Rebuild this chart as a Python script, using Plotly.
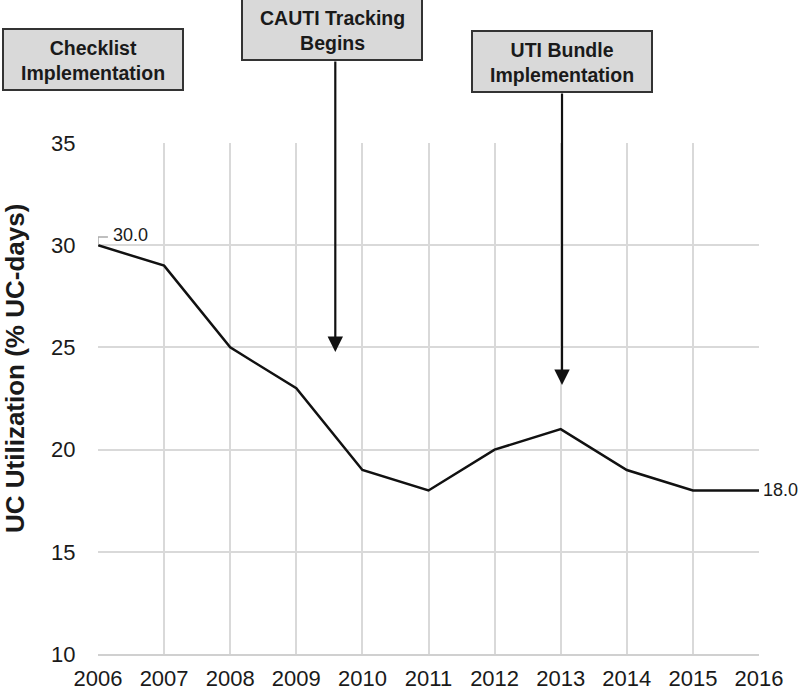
import plotly.graph_objects as go

years = [2006, 2007, 2008, 2009, 2010, 2011, 2012, 2013, 2014, 2015, 2016]
uc_util = [30, 29, 25, 23, 19, 18, 20, 21, 19, 18, 18]
y_ticks = [10, 15, 20, 25, 30, 35]

events = ["Checklist<br>Implementation", "CAUTI Tracking<br>Begins", "UTI Bundle<br>Implementation"]
event_x = [2005.92, 2009.59, 2013.02]
event_tip = [35.98, 24.78, 23.16]

FONT = "Liberation Sans, Arial, sans-serif"

W, H = 800, 690
L, T = 98, 143
R, B = W - 759, H - 654
pw, ph = W - L - R, H - T - B

fig = go.Figure()
fig.add_trace(go.Scatter(x=years, y=uc_util, mode="lines",
                         line=dict(color="#111111", width=2.5),
                         showlegend=False, hoverinfo="skip", cliponaxis=False))


def px_x(p):
    return (p - L) / pw


def px_y(p):
    return (H - B - p) / ph


# event boxes (screen pixel extents)
boxes = [(3, 183, 29, 90), (242, 422, -1, 60), (472, 652, 31, 92)]
annotations = []
shapes = []
for (x0, x1, y0, y1), txt, ex, et in zip(boxes, events, event_x, event_tip):
    shapes.append(dict(type="rect", xref="paper", yref="paper",
                       x0=px_x(x0), x1=px_x(x1), y0=px_y(y1), y1=px_y(y0),
                       fillcolor="#d9d9d9", line=dict(color="#333333", width=2), layer="above"))
    annotations.append(dict(xref="paper", yref="paper", x=px_x((x0 + x1) / 2), y=px_y((y0 + y1) / 2 + 1),
                            text="<b>" + txt + "</b>", showarrow=False,
                            font=dict(family=FONT, size=19.5, color="#1a1a1a"),
                            xanchor="center", yanchor="middle"))
    tip_py = T + (35 - et) / 25 * ph
    annotations.append(dict(x=ex, y=et, xref="x", yref="y", text="", showarrow=True,
                            ax=0, ay=-(tip_py - y1), arrowhead=2, arrowsize=1.4,
                            arrowwidth=2.2, arrowcolor="#111111"))

# data labels
annotations.append(dict(x=years[0], y=uc_util[0], xref="x", yref="y",
                        text=f"{uc_util[0]:.1f}", showarrow=False,
                        xanchor="left", yanchor="bottom", xshift=13, yshift=-2,
                        font=dict(family=FONT, size=18, color="#1a1a1a")))
shapes.append(dict(type="path", xref="x", yref="y",
                   path=f"M {years[0]},{uc_util[0]} L {years[0]},{uc_util[0] + 0.4} L {years[0] + 0.15},{uc_util[0] + 0.4}",
                   line=dict(color="#aaaaaa", width=1.5)))
annotations.append(dict(x=years[-1], y=uc_util[-1], xref="x", yref="y",
                        text=f"{uc_util[-1]:.1f}", showarrow=False,
                        xanchor="left", yanchor="middle", xshift=2,
                        font=dict(family=FONT, size=18, color="#1a1a1a")))

# y title
annotations.append(dict(xref="paper", yref="paper", x=px_x(15), y=px_y(369),
                        text="<b>UC Utilization (% UC-days)</b>", textangle=-90,
                        showarrow=False, xanchor="center", yanchor="middle",
                        font=dict(family=FONT, size=26, color="#1a1a1a")))

fig.update_layout(
    width=W, height=H,
    margin=dict(l=L, r=R, t=T, b=B, autoexpand=False),
    plot_bgcolor="white", paper_bgcolor="white",
    font=dict(family=FONT, size=22, color="#1a1a1a"),
    shapes=shapes, annotations=annotations,
    xaxis=dict(range=[2006, 2016], tickvals=years, ticktext=[str(y) for y in years],
               showgrid=True, gridcolor="#d9d9d9", gridwidth=1.5,
               showline=True, linecolor="#d0d0d0", linewidth=1.5, mirror=False,
               zeroline=False, ticks="outside", ticklen=4, tickcolor="rgba(0,0,0,0)",
               tickfont=dict(size=22)),
    yaxis=dict(range=[10, 35], tickvals=y_ticks,
               showgrid=True, gridcolor="#d9d9d9", gridwidth=1.5,
               showline=False, zeroline=False,
               ticks="outside", ticklen=17, tickcolor="rgba(0,0,0,0)",
               tickfont=dict(size=22)),
)

fig.write_html("out.html", config={"displayModeBar": False},
               post_script="document.body.style.margin='0px';document.body.style.overflow='hidden';")
